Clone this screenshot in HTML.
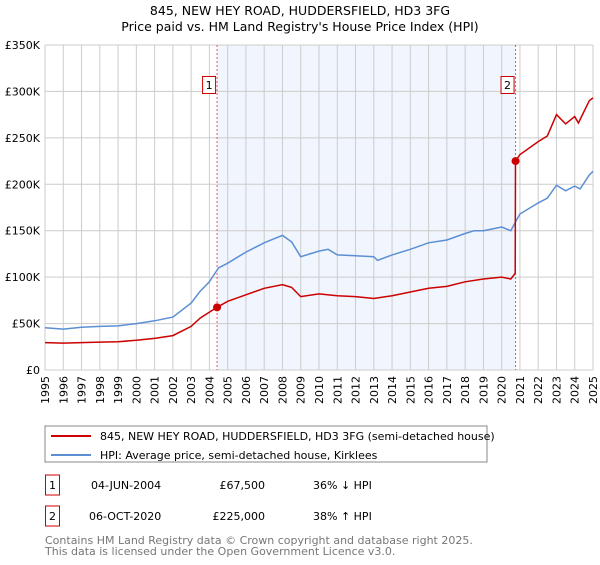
<!DOCTYPE html>
<html><head><meta charset="utf-8"><style>
body{margin:0;background:#fff;font-family:"Liberation Sans","DejaVu Sans",sans-serif;}
svg text{font-family:"DejaVu Sans","Liberation Sans",sans-serif;}
</style></head><body>
<svg id="c" width="600" height="560" viewBox="0 0 600 560">
<text x="300" y="15" font-size="12.5" text-anchor="middle">845, NEW HEY ROAD, HUDDERSFIELD, HD3 3FG</text>
<text x="300" y="31" font-size="12.5" text-anchor="middle">Price paid vs. HM Land Registry's House Price Index (HPI)</text>
<g id="plot"></g>
<rect x="45" y="426" width="442" height="36" fill="#fff" stroke="#888"/>
<line x1="51" y1="436" x2="91" y2="436" stroke="#cc0000" stroke-width="2"/>
<text x="100" y="440" font-size="11">845, NEW HEY ROAD, HUDDERSFIELD, HD3 3FG (semi-detached house)</text>
<line x1="51" y1="455" x2="91" y2="455" stroke="#5b8fd4" stroke-width="2"/>
<text x="100" y="459" font-size="11">HPI: Average price, semi-detached house, Kirklees</text>
<g>
<rect x="45.5" y="475" width="14" height="20" fill="#fff" stroke="#cc0000"/>
<text x="52.5" y="489" font-size="11" text-anchor="middle">1</text>
<text x="91" y="489" font-size="11">04-JUN-2004</text>
<text x="265" y="489" font-size="11" text-anchor="end">£67,500</text>
<text x="313" y="489" font-size="11">36% ↓ HPI</text></g>
<g>
<rect x="45.5" y="506" width="14" height="20" fill="#fff" stroke="#cc0000"/>
<text x="52.5" y="520" font-size="11" text-anchor="middle">2</text>
<text x="89" y="520" font-size="11">06-OCT-2020</text>
<text x="265" y="520" font-size="11" text-anchor="end">£225,000</text>
<text x="313" y="520" font-size="11">38% ↑ HPI</text></g>
<text x="45" y="544" font-size="11" fill="#777">Contains HM Land Registry data © Crown copyright and database right 2025.</text>
<text x="45" y="555" font-size="11" fill="#777">This data is licensed under the Open Government Licence v3.0.</text>
</svg>
<script>
const yTicks=[0,50,100,150,200,250,300,350];
const yTickLabels=["£0","£50K","£100K","£150K","£200K","£250K","£300K","£350K"];
const years=[1995,1996,1997,1998,1999,2000,2001,2002,2003,2004,2005,2006,2007,2008,2009,2010,2011,2012,2013,2014,2015,2016,2017,2018,2019,2020,2021,2022,2023,2024,2025];
const hpiT=[1995,1996,1997,1998,1999,2000,2001,2002,2003,2003.5,2004,2004.5,2005,2006,2007,2007.5,2008,2008.5,2009,2009.5,2010,2010.5,2011,2012,2013,2013.2,2014,2015,2016,2017,2018,2018.5,2019,2019.5,2020,2020.5,2020.8,2021,2022,2022.5,2023,2023.5,2024,2024.3,2024.8,2025];
const hpiV=[45.5,44,46,47,47.5,50,53,57,72,85,95,110,115,127,137,141,145,138,122,125,128,130,124,123,122,118,124,130,137,140,147,150,150,152,154,150,161,168,180,185,199,193,198,195,210,214];
const redT=[1995,1996,1997,1998,1999,2000,2001,2002,2003,2003.5,2004.42,2005,2006,2007,2008,2008.5,2009,2010,2011,2012,2013,2014,2015,2016,2017,2018,2019,2020,2020.5,2020.74,2020.76,2021,2022,2022.5,2023,2023.5,2024,2024.2,2024.8,2025];
const redV=[29.5,29,29.5,30,30.5,32,34,37,47,56,67.5,74,81,88,92,89,79,82,80,79,77,80,84,88,90,95,98,100,98,104,225,232,246,252,275,265,273,266,290,293];
const saleT=[2004.42,2020.76];
const saleV=[67.5,225];
const saleLabels=["1","2"];
const X0=45,X1=593,Y0=370,Y1=45;
const xs=t=>X0+(t-1995)/30*(X1-X0);
const ys=v=>Y0-v/350*(Y0-Y1);
const NS="http://www.w3.org/2000/svg";
const g=document.getElementById('plot');
function mk(tag,attrs,parent){const e=document.createElementNS(NS,tag);for(const k in attrs)e.setAttribute(k,attrs[k]);(parent||g).appendChild(e);return e;}
let e=mk('rect',{x:xs(saleT[0]),y:Y1,width:xs(saleT[1])-xs(saleT[0]),height:Y0-Y1,fill:'#eef3fc',opacity:0.8});


years.forEach((yr)=>{const l=mk('line',{x1:xs(yr),x2:xs(yr),y1:Y1,y2:Y0,stroke:'#ccc'});


const t=mk('text',{x:0,y:0,'font-size':11,'text-anchor':'end',transform:`translate(${xs(yr)+4},${Y0+6}) rotate(-90)`});t.textContent=yr;

});
yTicks.forEach((v,i)=>{const l=mk('line',{x1:X0,x2:X1,y1:ys(v),y2:ys(v),stroke:'#ccc'});


const t=mk('text',{x:X0-5,y:ys(v)+4,'font-size':11,'text-anchor':'end'});t.textContent=yTickLabels[i];

});
saleT.forEach((t,i)=>{const l=mk('line',{x1:xs(t),x2:xs(t),y1:Y1,y2:Y0,stroke:'#e55','stroke-dasharray':'2,2'});

});
const path=(T,V)=>T.map((t,i)=>(i?'L':'M')+xs(t).toFixed(1)+','+ys(V[i]).toFixed(1)).join('');
e=mk('path',{d:path(hpiT,hpiV),fill:'none',stroke:'#5b8fd4','stroke-width':1.5});


e=mk('path',{d:path(redT,redV),fill:'none',stroke:'#cc0000','stroke-width':1.5});


saleT.forEach((t,i)=>{const c=mk('circle',{cx:xs(t),cy:ys(saleV[i]),r:4,fill:'#cc0000'});


const b=mk('rect',{x:xs(t)-14.5,y:76.5,width:13,height:17,fill:'#fff',stroke:'#cc0000'});


const tx=mk('text',{x:xs(t)-8,y:89,'font-size':11,'text-anchor':'middle'});tx.textContent=saleLabels[i];

});
</script>
</body></html>
